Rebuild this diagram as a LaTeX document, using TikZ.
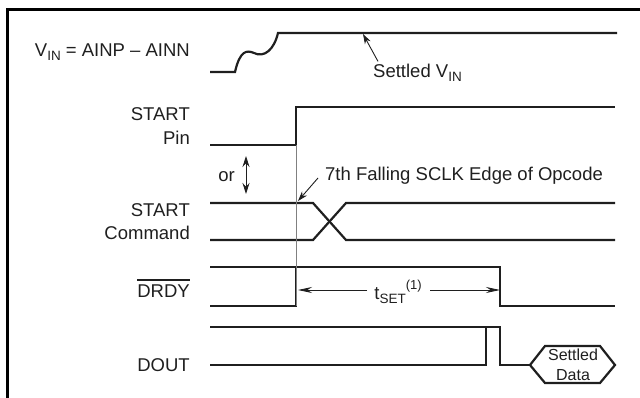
\documentclass[tikz,border=0pt]{standalone}
\usepackage{fontspec}
\setmainfont{Liberation Sans}
\usetikzlibrary{positioning,arrows.meta}
\newcommand{\lo}[1]{\raisebox{-4pt}{\fontsize{13.5}{15}\selectfont #1}}
\newcommand{\hi}[1]{\raisebox{10pt}{\fontsize{13}{15}\selectfont #1}}
\tikzset{
  frm/.style={line width=3pt,black},
  sig/.style={line width=2.2pt,black!88,line join=miter},
  edgeln/.style={line width=0.7pt,black!50},
  ptr/.style={-{Stealth[length=10pt,width=6.5pt]},line width=0.9pt,black!88},
  dim/.style={-{Stealth[length=14pt,width=6pt]},line width=0.9pt,black!88},
  dbl/.style={{Stealth[length=11pt,width=7pt]}-{Stealth[length=11pt,width=7pt]},line width=0.9pt,black!88},
  lbl/.style={font=\fontsize{18.5}{21}\selectfont,text=black!88,inner sep=0pt,anchor=base east},
  txt/.style={font=\fontsize{18.5}{21}\selectfont,text=black!88,inner sep=0pt,anchor=base west},
  small/.style={font=\fontsize{16}{18}\selectfont,text=black!88,inner sep=0pt,anchor=base},
}
\begin{document}
\begin{tikzpicture}[x=1pt,y=-1pt]
  \useasboundingbox (0,0) rectangle (640,398);
  \draw[frm] (7.5,398) -- (7.5,9.5) -- (640,9.5);
  % signal names
  \node[lbl] (vin) at (190,57) {V\lo{IN} = AINP – AINN};
  \node[lbl] (pinA) at (190,121) {START};
  \node[lbl] (pinB) at (190,145) {Pin};
  \node[lbl] (cmdA) at (190,217) {START};
  \node[lbl] (cmdB) at (190,240) {Command};
  \node[lbl] (drdy) at (190,297) {DRDY};
  \draw[line width=1.3pt,black!88] ([yshift=4pt]drdy.north west) -- ([yshift=4pt]drdy.north east);
  \node[lbl] (dout) at (190,371) {DOUT};
  \node[lbl] (orlbl) at (235,182) {or};
  % waveforms
  \draw[sig] (210,72) -- (235,72) .. controls (240,50) and (247,50) .. (254,53)
    .. controls (264,58) and (274,50) .. (278,33) -- (617,33);
  \draw[sig] (210,145) -- (296,145) -- (296,107) -- (615,107);
  \draw[sig] (210,203) -- (313,203) -- (346,240) -- (615,240);
  \draw[sig] (210,240) -- (313,240) -- (346,203) -- (615,203);
  \draw[sig] (210,267) -- (500,267) -- (500,306) -- (615,306);
  \draw[sig] (210,306) -- (296,306) -- (296,267);
  \draw[sig] (210,327) -- (500,327) -- (500,365) -- (530,365);
  \draw[sig] (210,365) -- (486,365) -- (486,327);
  \draw[sig] (530,365) -- (545,346) -- (600,346) -- (615,365) -- (600,383) -- (545,383) -- cycle;
  \node[small] (setA) at (573,360) {Settled};
  \node[small] (setB) at (573,380) {Data};
  % start edge
  \draw[edgeln] (296,145) -- (296,306);
  % annotations
  \node[txt] (setvin) at (373,78) {Settled V\lo{IN}};
  \coordinate (vset) at (363,34);
  \draw[ptr] ([xshift=5pt,yshift=3pt]setvin.north west) -- (vset);
  \node[txt] (fall) at (325,181) {7th Falling SCLK Edge of Opcode};
  \coordinate (cmdedge) at (298,201);
  \draw[ptr] ([xshift=-7pt,yshift=3pt]fall.base west) -- (cmdedge);
  \coordinate (orA) at (246,156);
  \coordinate (orB) at (246,194);
  \draw[dbl] (orA) -- (orB);
  \node[font=\fontsize{18.5}{21}\selectfont,text=black!88,inner sep=0pt,anchor=base] (tset) at (398,299) {t\lo{SET}\hi{(1)}};
  \coordinate (tL) at (298,290);
  \coordinate (tR) at (500,290);
  \coordinate (tLa) at (367,290);
  \coordinate (tRa) at (430,290);
  \draw[dim] (tLa) -- (tL);
  \draw[dim] (tRa) -- (tR);
\end{tikzpicture}
\end{document}
